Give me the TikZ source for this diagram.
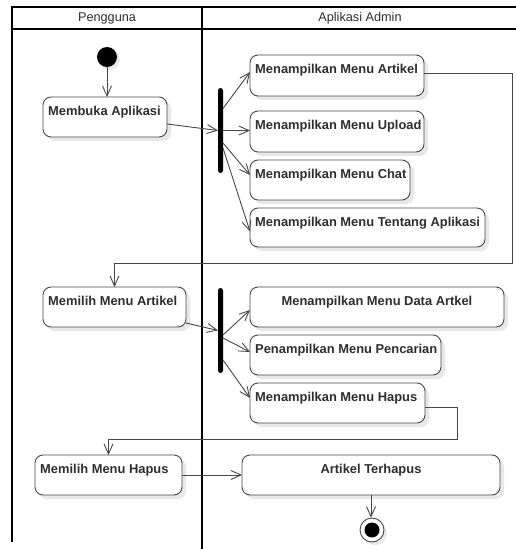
\documentclass[tikz,border=0pt]{standalone}
\usepackage{fontspec}
\setmainfont{Liberation Sans}
\usetikzlibrary{arrows.meta,calc,shadows}
\definecolor{ink}{HTML}{2E2E2E}
\definecolor{edge}{HTML}{474747}
\tikzset{
  act/.style={draw=edge, line width=0.9pt, rounded corners=8pt, fill=white,
    anchor=north west, inner sep=0pt, outer sep=0pt,
    drop shadow={shadow xshift=4pt, shadow yshift=-4pt, fill=black!9, opacity=1}},
  lbl/.style={anchor=north west, inner sep=0pt, xshift=5pt, yshift=-8.5pt,
    text=ink, font=\fontsize{12.9}{14}\selectfont\bfseries},
  lblc/.style={anchor=north, inner sep=0pt, yshift=-8.5pt,
    text=ink, font=\fontsize{12.9}{14}\selectfont\bfseries},
  head/.style={text=ink, font=\fontsize{12.7}{14}\selectfont, inner sep=0pt},
  forkbar/.style={fill=black, rounded corners=2.5pt, minimum width=5pt,
    minimum height=85pt, inner sep=0pt, outer sep=0pt},
  flow/.style={draw=edge, line width=0.9pt, -{Straight Barb[length=10pt,width=9pt]}},
  lane/.style={draw=black, line width=1.8pt},
}
\begin{document}
\begin{tikzpicture}[x=1pt,y=-1pt]
\useasboundingbox (0,0) rectangle (516,549);

% swimlane frame
\draw[lane] (12,7) -- (518,7);
\draw[lane] (12,29) -- (518,29);
\draw[lane] (12,6.1) -- (12,542);
\draw[lane] (202,7) -- (202,549);
\node[head] (h1) at (107,18) {Pengguna};
\node[head] (h2) at (360,18) {Aplikasi Admin};

% initial and final nodes
\node[circle, fill=black, minimum size=20pt, inner sep=0pt,
  drop shadow={shadow xshift=3pt, shadow yshift=-3pt, fill=black!9, opacity=1}] (start) at (107,57) {};
\node[circle, draw=edge, line width=0.9pt, fill=white, minimum size=24pt, inner sep=0pt,
  drop shadow={shadow xshift=3pt, shadow yshift=-3pt, fill=black!9, opacity=1}] (fin) at (372,530) {};
\node[circle, fill=black, minimum size=15pt, inner sep=0pt] (finin) at (fin.center) {};

% actions of the user lane
\node[act, minimum width=124pt, minimum height=40pt,
  label={[lbl]north west:Membuka Aplikasi}] (a1) at (43,97) {};
\node[act, minimum width=143pt, minimum height=40pt,
  label={[lbl]north west:Memilih Menu Artikel}] (a2) at (43,287) {};
\node[act, minimum width=147pt, minimum height=40pt,
  label={[lbl]north west:Memilih Menu Hapus}] (a3) at (35,455) {};

% actions of the admin application lane
\node[act, minimum width=174pt, minimum height=41pt,
  label={[lbl]north west:Menampilkan Menu Artikel}] (b1) at (250,55) {};
\node[act, minimum width=174pt, minimum height=41pt,
  label={[lbl]north west:Menampilkan Menu Upload}] (b2) at (250,111) {};
\node[act, minimum width=160pt, minimum height=40pt,
  label={[lbl]north west:Menampilkan Menu Chat}] (b3) at (250,160) {};
\node[act, minimum width=235pt, minimum height=39pt,
  label={[lbl]north west:Menampilkan Menu Tentang Aplikasi}] (b4) at (250,208) {};
\node[act, minimum width=254pt, minimum height=40pt,
  label={[lblc]north:Menampilkan Menu Data Artkel}] (c1) at (250,287) {};
\node[act, minimum width=191pt, minimum height=40pt,
  label={[lbl]north west:Penampilkan Menu Pencarian}] (c2) at (250,335) {};
\node[act, minimum width=175pt, minimum height=40pt,
  label={[lbl]north west:Menampilkan Menu Hapus}] (c3) at (250,383) {};
\node[act, minimum width=258pt, minimum height=40pt,
  label={[lblc]north:Artikel Terhapus}] (d) at (242,455) {};

% fork bars
\node[forkbar] (bar1) at (220.5,130.5) {};
\node[forkbar] (bar2) at (220.5,330.5) {};

% routing corners of the return flows
\coordinate (r1) at (512,263);
\coordinate (r2) at (457,439);

% flows
\draw[flow] (start.south) -- (start.south |- a1.north);
\draw[flow] ($(a1.east)+(0,7)$) -- (bar1.west);
\draw[flow] ($(bar1.east)+(0,-22)$) -- ($(b1.west)+(0,-3.5)$);
\draw[flow] (bar1.east) -- (bar1.east -| b2.west);
\draw[flow] ($(bar1.east)+(0,12.5)$) -- ($(b3.west)+(0,-5)$);
\draw[flow] ($(bar1.east)+(0,17.5)$) -- ($(b4.west)+(0,4)$);
\draw[flow] ($(b1.east)+(0,-2.5)$) -| (r1) -| (a2.north);
\draw[flow] ($(a2.east)+(0,16)$) -- (bar2.west);
\draw[flow] ($(bar2.east)+(0,4.5)$) -- ($(c1.west)+(0,3)$);
\draw[flow] ($(bar2.east)+(0,7.5)$) -- ($(c2.west)+(0,-3)$);
\draw[flow] ($(bar2.east)+(0,29.5)$) -- ($(c3.west)+(0,-5)$);
\draw[flow] ($(c3.east)+(0,4)$) -| (r2) -| (a3.north);
\draw[flow] (a3.east) -- (d.west);
\draw[flow] (d.south) -- (d.south |- fin.north);
\end{tikzpicture}
\end{document}
